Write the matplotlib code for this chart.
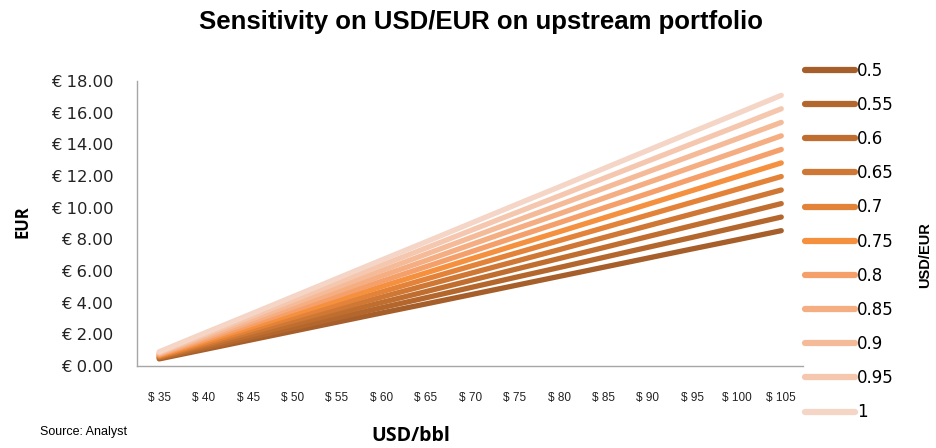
import matplotlib
matplotlib.use('Agg')
import matplotlib.pyplot as plt
from matplotlib.lines import Line2D

prices = ['$ 35', '$ 40', '$ 45', '$ 50', '$ 55', '$ 60', '$ 65', '$ 70',
          '$ 75', '$ 80', '$ 85', '$ 90', '$ 95', '$ 100', '$ 105']
rates = ['0.5', '0.55', '0.6', '0.65', '0.7', '0.75', '0.8', '0.85', '0.9', '0.95', '1']

eur_050 = [0.45, 1.03, 1.61, 2.19, 2.77, 3.35, 3.92, 4.50, 5.08, 5.66, 6.24, 6.82, 7.40, 7.97, 8.55]
eur_055 = [0.50, 1.13, 1.77, 2.40, 3.04, 3.68, 4.31, 4.95, 5.59, 6.22, 6.86, 7.50, 8.13, 8.77, 9.41]
eur_060 = [0.54, 1.24, 1.93, 2.62, 3.32, 4.01, 4.70, 5.40, 6.10, 6.79, 7.48, 8.18, 8.87, 9.56, 10.26]
eur_065 = [0.59, 1.34, 2.09, 2.84, 3.59, 4.35, 5.10, 5.85, 6.60, 7.35, 8.11, 8.86, 9.61, 10.36, 11.12]
eur_070 = [0.63, 1.44, 2.25, 3.06, 3.87, 4.68, 5.49, 6.30, 7.11, 7.92, 8.73, 9.54, 10.35, 11.16, 11.97]
eur_075 = [0.68, 1.55, 2.41, 3.28, 4.15, 5.02, 5.88, 6.75, 7.62, 8.48, 9.35, 10.22, 11.09, 11.96, 12.83]
eur_080 = [0.72, 1.65, 2.57, 3.50, 4.42, 5.35, 6.27, 7.20, 8.13, 9.05, 9.98, 10.90, 11.83, 12.75, 13.68]
eur_085 = [0.77, 1.75, 2.73, 3.71, 4.70, 5.69, 6.66, 7.65, 8.64, 9.61, 10.60, 11.59, 12.57, 13.55, 14.54]
eur_090 = [0.81, 1.85, 2.89, 3.93, 4.98, 6.02, 7.06, 8.10, 9.14, 10.18, 11.22, 12.27, 13.31, 14.35, 15.39]
eur_095 = [0.86, 1.96, 3.05, 4.15, 5.25, 6.36, 7.45, 8.55, 9.65, 10.74, 11.85, 12.95, 14.05, 15.14, 16.25]
eur_100 = [0.90, 2.06, 3.21, 4.37, 5.53, 6.69, 7.84, 9.00, 10.16, 11.31, 12.47, 13.63, 14.79, 15.94, 17.10]

series = [eur_050, eur_055, eur_060, eur_065, eur_070, eur_075,
          eur_080, eur_085, eur_090, eur_095, eur_100]
colors = ['#A65F2B', '#B4672D', '#C06E30', '#CF7734', '#E38339', '#F5903F',
          '#F5A06A', '#F5AD82', '#F5BB99', '#F5C7AE', '#F4D5C6']

fig = plt.figure(figsize=(9.36, 4.48), dpi=100)
ax = fig.add_axes([0.1464, 0.183, 0.712, 0.636])

x = list(range(len(prices)))
for vals, c in zip(series, colors):
    ax.plot(x, vals, color=c, lw=3.8, solid_capstyle='round')

ax.set_xlim(-0.5, len(prices) - 0.5)
ax.set_ylim(0, 18)
ax.set_yticks(range(0, 19, 2))
ax.set_yticklabels(['€ %.2f' % v for v in range(0, 19, 2)],
                   fontsize=11.8, family='DejaVu Sans', color='#222222')
ax.set_xticks(x)
ax.set_xticklabels(prices, fontsize=8.5,
                   family=['Liberation Sans Narrow', 'Liberation Sans'], color='#222222')
ax.tick_params(axis='both', length=0)
ax.tick_params(axis='y', pad=17)
ax.tick_params(axis='x', pad=19)
for s in ['top', 'right']:
    ax.spines[s].set_visible(False)
for s in ['left', 'bottom']:
    ax.spines[s].set_color('#A6A6A6')
    ax.spines[s].set_linewidth(1.0)

fig.text(0.514, 0.952, 'Sensitivity on USD/EUR on upstream portfolio', ha='center', va='center',
         fontsize=18.5, fontweight='bold', family='Liberation Sans')
fig.text(0.024, 0.505, 'EUR', rotation=90, ha='center', va='center',
         fontsize=12, fontweight='bold', family=['Open Sans', 'DejaVu Sans'])
fig.text(0.439, 0.026, 'USD/bbl', ha='center', va='center',
         fontsize=14, fontweight='bold', family=['Open Sans', 'DejaVu Sans'])
fig.text(0.043, 0.036, 'Source: Analyst', ha='left', va='center',
         fontsize=9, family='Liberation Sans')
fig.text(0.988, 0.43, 'USD/EUR', rotation=90, ha='center', va='center',
         fontsize=10.5, fontweight='bold', family='Liberation Sans')

handles = [Line2D([0], [0], color=c, lw=4.5, solid_capstyle='round') for c in colors]
fig.legend(handles, rates, loc='upper left', bbox_to_anchor=(0.86, 0.862),
           frameon=False, handlelength=3.0, handletextpad=0.12, labelspacing=0.97,
           borderaxespad=0, borderpad=0,
           prop={'family': 'DejaVu Sans', 'size': 12})

fig.savefig('out.png', dpi=100)
